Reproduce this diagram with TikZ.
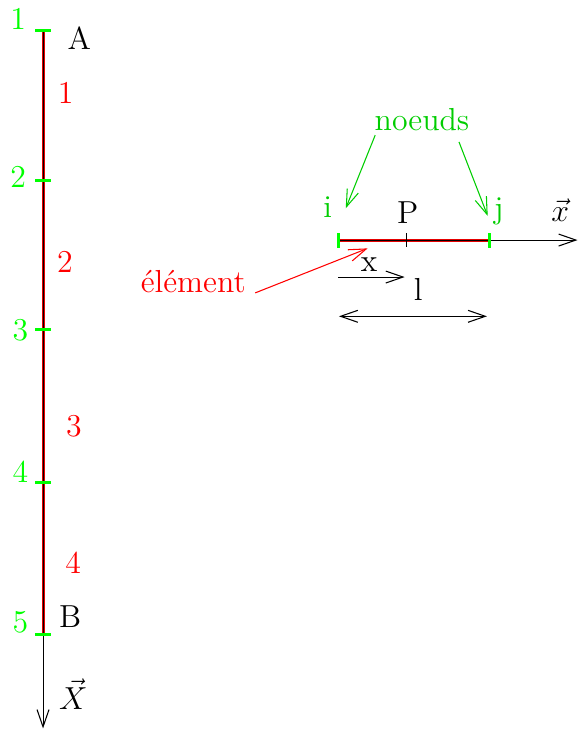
\documentclass[12pt,tikz,border=0pt]{standalone}
\usepackage{amsmath}
\usepackage{xcolor}
\usepackage{tikz}
\usetikzlibrary{arrows.meta,positioning,calc}
\definecolor{vertvif}{RGB}{0,255,0}
\definecolor{vertnoeud}{RGB}{0,205,0}

\begin{document}
\begin{tikzpicture}[
  barb/.style={-{Straight Barb[length=6.5pt,width=4.5pt]}},
  dbarb/.style={{Straight Barb[length=6.5pt,width=4.5pt]}-{Straight Barb[length=6.5pt,width=4.5pt]}},
  elem/.style={red!90!black, line width=1.15pt},
  tickn/.style={vertvif, line width=1.2pt},
  ticknd/.style={vertvif, line width=1.1pt},
  numn/.style={text=vertvif},
  nume/.style={text=red}
]
\useasboundingbox (-0.57,0.40) rectangle (7.09,-9.27);
% poutre AB
\coordinate (n1) at (0,0);
\coordinate (n2) at (0,-1.99);
\coordinate (n3) at (0,-3.97);
\coordinate (n4) at (0,-5.99);
\coordinate (n5) at (0,-8.0);
\coordinate (Xend) at (0,-9.25);
\draw[elem] (n1) -- (n5);
\draw[barb] (n1) -- (Xend);
\draw[tickn] ($(n1)+(-0.1,0)$) -- ($(n1)+(0.1,0)$);
\draw[tickn] ($(n2)+(-0.1,0)$) -- ($(n2)+(0.1,0)$);
\draw[tickn] ($(n3)+(-0.1,0)$) -- ($(n3)+(0.1,0)$);
\draw[tickn] ($(n4)+(-0.1,0)$) -- ($(n4)+(0.1,0)$);
\draw[tickn] ($(n5)+(-0.1,0)$) -- ($(n5)+(0.1,0)$);
\node[numn] (t1) at (-0.33,0.15) {1};
\node[numn] (t2) at (-0.33,-1.95) {2};
\node[numn] (t3) at (-0.30,-3.97) {3};
\node[numn] (t4) at (-0.30,-5.85) {4};
\node[numn] (t5) at (-0.30,-7.84) {5};
\node[nume] (e1) at (0.30,-0.83) {1};
\node[nume] (e2) at (0.29,-3.07) {2};
\node[nume] (e3) at (0.41,-5.25) {3};
\node[nume] (e4) at (0.40,-7.06) {4};
\node (A) at (0.48,-0.11) {A};
\node (B) at (0.36,-7.77) {B};
\node (lX) at (0.40,-8.80) {$\vec{X}$};
% element ij
\coordinate (i) at (3.91,-2.78);
\coordinate (P) at (4.81,-2.78);
\coordinate (j) at (5.91,-2.78);
\coordinate (xend) at (7.08,-2.78);
\draw[elem] (i) -- (j);
\draw[barb] (i) -- (xend);
\draw[ticknd] ($(i)+(0,-0.1)$) -- ($(i)+(0,0.1)$);
\draw[ticknd] ($(j)+(0,-0.1)$) -- ($(j)+(0,0.1)$);
\draw ($(P)+(0,-0.09)$) -- ($(P)+(0,0.09)$);
\node[text=vertnoeud] (li) at (3.77,-2.35) {i};
\node[text=vertnoeud] (lj) at (6.04,-2.40) {j};
\node (lP) at (4.83,-2.42) {P};
\node (lx) at (6.85,-2.38) {$\vec{x}$};
\node[text=vertnoeud] (noeuds) at (5.02,-1.18) {noeuds};
\coordinate (na) at (4.40,-1.39);
\coordinate (nai) at (4.01,-2.36);
\coordinate (nb) at (5.51,-1.48);
\coordinate (nbj) at (5.89,-2.46);
\draw[barb, vertnoeud] (na) -- (nai);
\draw[barb, vertnoeud] (nb) -- (nbj);
\node[text=red, anchor=base] (lelem) at (1.99,-3.48) {élément};
\coordinate (ea) at (2.81,-3.48);
\coordinate (eb) at (4.30,-2.89);
\draw[barb, red] (ea) -- (eb);
% cotes x et l
\coordinate (xa) at (3.91,-3.27);
\coordinate (xb) at (4.79,-3.27);
\draw[barb] (xa) -- (xb);
\node (lxx) at (4.32,-3.10) {x};
\coordinate (la) at (3.92,-3.79);
\coordinate (lb) at (5.88,-3.79);
\draw[dbarb] (la) -- (lb);
\node (ll) at (4.97,-3.44) {l};
\end{tikzpicture}
\end{document}
